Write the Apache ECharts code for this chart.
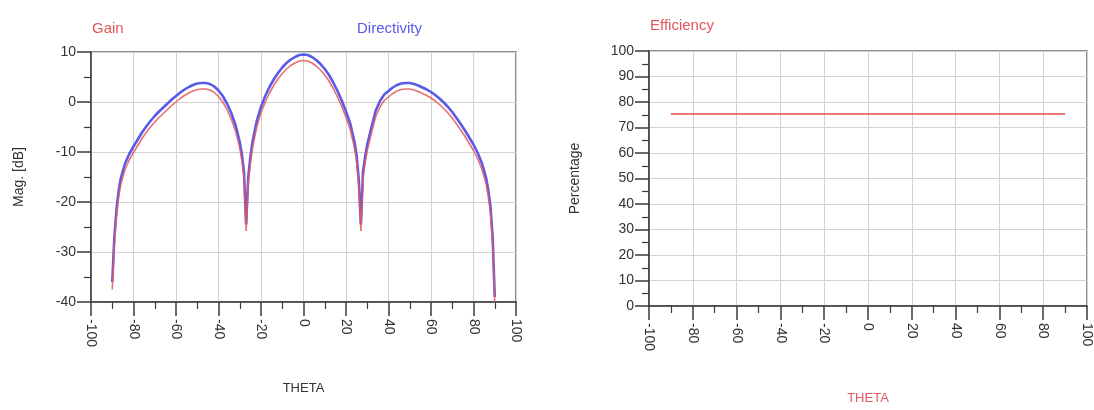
<!DOCTYPE html>
<html>
<head>
<meta charset="utf-8">
<script src="https://cdn.jsdelivr.net/npm/echarts@6/dist/echarts.min.js"></script>
<style>
  html, body { margin: 0; padding: 0; background: #ffffff; }
  #chart { width: 1094px; height: 410px; }
</style>
</head>
<body>
<div id="chart"></div>
<script>
// Far-field cut versus THETA (degrees)
const thetaDeg = [
  -90, -89, -88, -87, -86, -84, -82, -80, -78, -76, -74, -72, -70, -68, -66, -64, -62, -60,
  -58, -56, -54, -52, -50, -48, -46, -44, -42, -40, -38, -36, -34, -32, -30, -29, -28, -27,
  -26, -25, -24, -22, -20, -18, -16, -14, -12, -10, -8, -6, -4, -2, 0,
  2, 4, 6, 8, 10, 12, 14, 16, 18, 20, 22, 24, 25, 26, 27, 28, 29, 30,
  32, 34, 36, 38, 40, 42, 44, 46, 48, 50, 52, 54, 56, 58, 60, 62, 64, 66,
  68, 70, 72, 74, 76, 78, 80, 82, 84, 86, 87, 88, 89, 90
];

// Directivity, dB
const directivityDb = [
  -36.0, -27.0, -21.5, -17.8, -15.3, -12.3, -10.4, -8.9, -7.5, -6.1, -4.9, -3.8, -2.8, -1.9, -1.1, -0.3, 0.5, 1.2,
  1.9, 2.5, 3.0, 3.4, 3.7, 3.8, 3.8, 3.6, 3.1, 2.3, 1.2, -0.3, -2.2, -4.6, -8.0, -10.5, -14.0, -24.5,
  -15.0, -11.0, -8.0, -3.8, -1.0, 1.2, 3.0, 4.5, 5.8, 6.9, 7.8, 8.5, 9.0, 9.4, 9.5,
  9.4, 9.0, 8.4, 7.6, 6.6, 5.4, 3.9, 2.2, 0.3, -1.9, -4.3, -8.0, -10.7, -15.5, -24.5, -14.0, -11.0, -8.5,
  -5.0, -1.7, 0.2, 1.5, 2.2, 2.9, 3.4, 3.7, 3.8, 3.8, 3.6, 3.3, 2.9, 2.5, 2.0, 1.4, 0.7, -0.1,
  -1.0, -2.0, -3.2, -4.4, -5.7, -7.1, -8.5, -10.2, -12.3, -15.3, -17.8, -21.0, -27.0, -39.0
];

// Gain, dB
const gainDb = [
  -37.5, -28.2, -22.7, -19.0, -16.5, -13.5, -11.6, -10.1, -8.7, -7.3, -6.1, -5.0, -4.0, -3.1, -2.3, -1.5, -0.7, 0.0,
  0.7, 1.3, 1.8, 2.2, 2.5, 2.6, 2.6, 2.4, 1.9, 1.1, 0.0, -1.5, -3.4, -5.8, -9.2, -11.7, -15.2, -25.8,
  -16.2, -12.2, -9.2, -5.0, -2.2, 0.0, 1.8, 3.3, 4.6, 5.7, 6.6, 7.3, 7.8, 8.2, 8.3,
  8.2, 7.8, 7.2, 6.4, 5.4, 4.2, 2.7, 1.0, -0.9, -3.1, -5.5, -9.2, -11.9, -16.7, -25.8, -15.2, -12.2, -9.7,
  -6.2, -2.9, -1.0, 0.3, 1.0, 1.7, 2.2, 2.5, 2.6, 2.6, 2.4, 2.1, 1.7, 1.3, 0.8, 0.2, -0.5, -1.3,
  -2.2, -3.2, -4.4, -5.6, -6.9, -8.3, -9.7, -11.4, -13.5, -16.5, -19.0, -22.2, -28.2, -40.0
];

// Radiation efficiency, percent
const effTheta = [-90, -60, -30, 0, 30, 60, 90];
const efficiencyPct = [75.3, 75.3, 75.3, 75.3, 75.3, 75.3, 75.3];

const pair = (xs, ys) => xs.map((x, i) => [x, ys[i]]);

const FONT = '"Liberation Sans", Arial, sans-serif';
const AXIS_COLOR = '#3a3a3a';
const GRID_COLOR = '#d2d2d2';
const RED = '#e2585c';
const BLUE = '#5a5ae8';

function xAxisCfg(gridIndex, nameColor, nameGap) {
  return {
    type: 'value', gridIndex: gridIndex, min: -100, max: 100, interval: 20,
    name: 'THETA', nameLocation: 'middle', nameGap: nameGap,
    nameTextStyle: { color: nameColor, fontFamily: FONT, fontSize: 13 },
    axisLine: { onZero: false, lineStyle: { color: AXIS_COLOR, width: 1.5 } },
    axisTick: { length: 14, lineStyle: { color: AXIS_COLOR, width: 1.5 } },
    minorTick: { show: true, splitNumber: 2, length: 7, lineStyle: { color: AXIS_COLOR, width: 1.2 } },
    axisLabel: { rotate: -90, margin: 17, color: '#333', fontFamily: FONT, fontSize: 14 },
    splitLine: { show: true, lineStyle: { color: GRID_COLOR, width: 1 } }
  };
}

function yAxisCfg(gridIndex, min, max, interval, name, nameGap) {
  return {
    type: 'value', gridIndex: gridIndex, min: min, max: max, interval: interval,
    name: name, nameLocation: 'middle', nameGap: nameGap,
    nameTextStyle: { color: '#333', fontFamily: FONT, fontSize: 14 },
    axisLine: { show: true, onZero: false, lineStyle: { color: AXIS_COLOR, width: 1.5 } },
    axisTick: { show: true, length: 14, lineStyle: { color: AXIS_COLOR, width: 1.5 } },
    minorTick: { show: true, splitNumber: 2, length: 7, lineStyle: { color: AXIS_COLOR, width: 1.2 } },
    axisLabel: { margin: 15, color: '#333', fontFamily: FONT, fontSize: 14 },
    splitLine: { show: true, lineStyle: { color: GRID_COLOR, width: 1 } }
  };
}

const chart = echarts.init(document.getElementById('chart'), null, { renderer: 'canvas' });

chart.setOption({
  animation: false,
  backgroundColor: '#ffffff',
  grid: [
    { left: 91, right: 578, top: 52, bottom: 108, show: true, borderColor: '#6a6a6a', borderWidth: 1.5 },
    { left: 649, right: 6, top: 51, bottom: 102, show: true, borderColor: '#6a6a6a', borderWidth: 1.5 }
  ],
  xAxis: [
    xAxisCfg(0, '#333', 80),
    xAxisCfg(1, RED, 86)
  ],
  yAxis: [
    yAxisCfg(0, -40, 10, 10, 'Mag. [dB]', 65),
    yAxisCfg(1, 0, 100, 10, 'Percentage', 67)
  ],
  graphic: [
    { type: 'text', left: 92, top: 21, style: { text: 'Gain', fill: RED, font: '15px ' + FONT } },
    { type: 'text', left: 357, top: 21, style: { text: 'Directivity', fill: BLUE, font: '15px ' + FONT } },
    { type: 'text', left: 650, top: 18, style: { text: 'Efficiency', fill: RED, font: '15px ' + FONT } }
  ],
  series: [
    {
      name: 'Directivity', type: 'line', xAxisIndex: 0, yAxisIndex: 0,
      data: pair(thetaDeg, directivityDb), showSymbol: false, smooth: false,
      lineStyle: { color: BLUE, width: 2.6 }, z: 2
    },
    {
      name: 'Gain', type: 'line', xAxisIndex: 0, yAxisIndex: 0,
      data: pair(thetaDeg, gainDb), showSymbol: false, smooth: false,
      lineStyle: { color: RED, width: 1.6, opacity: 0.85 }, z: 3
    },
    {
      name: 'Efficiency', type: 'line', xAxisIndex: 1, yAxisIndex: 1,
      data: pair(effTheta, efficiencyPct), showSymbol: false,
      lineStyle: { color: RED, width: 2.2, opacity: 0.8 }, z: 3
    }
  ]
});
</script>
</body>
</html>
